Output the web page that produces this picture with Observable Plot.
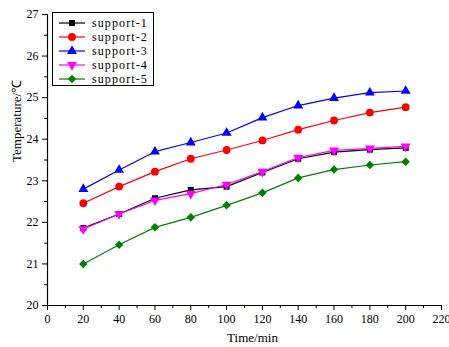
<!DOCTYPE html>
<html><head><meta charset="utf-8">
<script src="https://cdn.jsdelivr.net/npm/d3@7"></script>
<script src="https://cdn.jsdelivr.net/npm/@observablehq/plot@0.6"></script>
<style>
body{margin:0;background:#fff}
#wrap{position:relative;width:449px;height:347px}
#legend{position:absolute;left:0;top:0;font-family:"Liberation Serif",serif}
</style></head><body><div id="wrap"><div id="chart"></div></div>
<script>
const times = [20, 40, 60, 80, 100, 120, 140, 160, 180, 200];
const names = ["support-1", "support-2", "support-3", "support-4", "support-5"];
const support1 = [21.86, 22.20, 22.58, 22.78, 22.86, 23.20, 23.53, 23.69, 23.75, 23.79];
const support2 = [22.46, 22.86, 23.22, 23.53, 23.74, 23.97, 24.23, 24.45, 24.64, 24.77];
const support3 = [22.80, 23.26, 23.70, 23.92, 24.15, 24.52, 24.81, 24.99, 25.12, 25.16];
const support4 = [21.84, 22.20, 22.53, 22.69, 22.91, 23.22, 23.56, 23.73, 23.78, 23.83];
const support5 = [21.00, 21.46, 21.88, 22.12, 22.41, 22.71, 23.07, 23.27, 23.38, 23.46];
const colors = ["#000000", "#ff0000", "#0000ff", "#ff00ff", "#008000"];
const xTicks = [0, 20, 40, 60, 80, 100, 120, 140, 160, 180, 200, 220];
const xMinor = [10, 30, 50, 70, 90, 110, 130, 150, 170, 190, 210];
const yTicks = [20, 21, 22, 23, 24, 25, 26, 27];
const yMinor = [20.5, 21.5, 22.5, 23.5, 24.5, 25.5, 26.5];

const series = [support1, support2, support3, support4, support5];

const triDown = {draw(ctx, size) {
  const s = Math.sqrt(4 * size / Math.sqrt(3)), h = s * Math.sqrt(3) / 2;
  ctx.moveTo(0, 2 * h / 3); ctx.lineTo(-s / 2, -h / 3); ctx.lineTo(s / 2, -h / 3); ctx.closePath();
}};
const diamondSq = {draw(ctx, size) {
  const a = Math.sqrt(size / 2);
  ctx.moveTo(0, -a); ctx.lineTo(a, 0); ctx.lineTo(0, a); ctx.lineTo(-a, 0); ctx.closePath();
}};
const symbols = ["square", "circle", "triangle", triDown, diamondSq];
const radii = [3.4, 3.9, 3.7, 3.7, 3.4];

const marks = [];
series.forEach((vals, i) => {
  const data = times.map((t, j) => ({t, v: vals[j]}));
  marks.push(Plot.line(data, {x: "t", y: "v", stroke: colors[i], strokeWidth: 1.2}));
  marks.push(Plot.dot(data, {x: "t", y: "v", fill: colors[i], stroke: "none", symbol: symbols[i], r: radii[i]}));
});

const chart = Plot.plot({
  width: 449, height: 347,
  marginLeft: 47, marginRight: 8, marginTop: 14, marginBottom: 42,
  style: {fontSize: "12px", fontFamily: "Liberation Serif, serif", color: "#000", background: "#fff", overflow: "visible"},
  x: {domain: [0, 220]},
  y: {domain: [20, 27]},
  marks: [
    ...marks,
    Plot.axisX({ticks: xMinor, tickSize: 3, tickFormat: () => "", label: null}),
    Plot.axisX({ticks: xTicks, tickSize: 5, tickPadding: 4, tickFormat: d => String(d), label: null, fontSize: 12}),
    Plot.axisY({ticks: yMinor, tickSize: 3, tickFormat: () => "", label: null}),
    Plot.axisY({ticks: yTicks, tickSize: 5, tickPadding: 4, tickFormat: d => String(d), label: null, fontSize: 12}),
    Plot.ruleY([20], {stroke: "#000", strokeWidth: 1.2}),
    Plot.ruleX([0], {stroke: "#000", strokeWidth: 1.2}),
    Plot.text(["Time/min"], {frameAnchor: "bottom", dy: 36, dx: 8, fontSize: 13, style: {letterSpacing: "1px"}}),
    Plot.text(["Temperature/℃"], {frameAnchor: "left", dx: -31, dy: 2, rotate: -90, fontSize: 13})
  ]
});
document.getElementById("chart").appendChild(chart);

// legend overlay
const lg = d3.select("#wrap").append("svg").attr("id", "legend")
  .attr("width", 449).attr("height", 347);
lg.append("rect").attr("x", 52.5).attr("y", 12.5).attr("width", 101).attr("height", 73)
  .attr("fill", "#fff").attr("stroke", "#000").attr("stroke-width", 1);
names.forEach((n, i) => {
  const y = 23 + i * 14;
  lg.append("line").attr("x1", 59).attr("x2", 85).attr("y1", y).attr("y2", y)
    .attr("stroke", colors[i]).attr("stroke-width", 1.2);
  const sym = typeof symbols[i] === "string"
    ? {square: d3.symbolSquare, circle: d3.symbolCircle, triangle: d3.symbolTriangle}[symbols[i]]
    : symbols[i];
  lg.append("path").attr("transform", `translate(72,${y})`)
    .attr("d", d3.symbol(sym, radii[i] * radii[i] * Math.PI)())
    .attr("fill", colors[i]);
  lg.append("text").attr("x", 92).attr("y", y).attr("dy", "0.35em")
    .attr("font-size", 12).attr("letter-spacing", "1.1px").attr("fill", "#000").text(n);
});
</script></body></html>
